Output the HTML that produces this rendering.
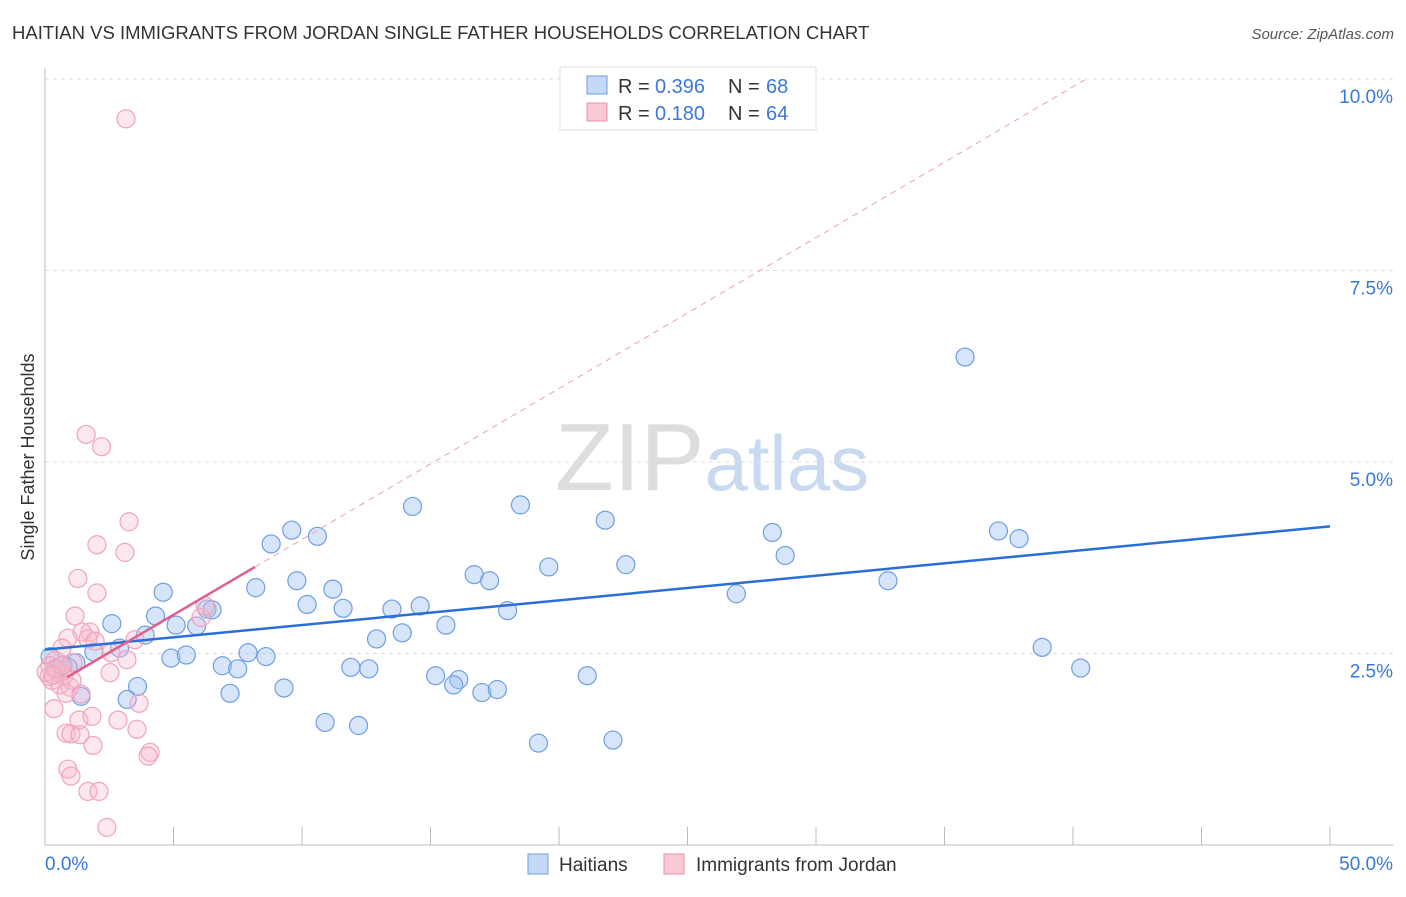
<!DOCTYPE html>
<html><head><meta charset="utf-8">
<style>
body{margin:0;background:#fff;font-family:"Liberation Sans",sans-serif;}
svg text{font-family:"Liberation Sans",sans-serif;}
</style></head>
<body>
<svg id="chart" width="1406" height="892" xmlns="http://www.w3.org/2000/svg">
<text x="12" y="39" font-size="18.5" fill="#333">HAITIAN VS IMMIGRANTS FROM JORDAN SINGLE FATHER HOUSEHOLDS CORRELATION CHART</text>
<text x="1394" y="39" font-size="15" fill="#555" text-anchor="end" font-style="italic">Source: ZipAtlas.com</text>
<text x="555" y="490" font-size="96" fill="#ddd" font-family="Liberation Serif">ZIP<tspan fill="#c9d9ef" font-family="Liberation Sans" font-size="78">atlas</tspan></text>
<g id="grid"></g>
<g id="axes"></g>
<g id="points"></g>
<g id="trends"></g>
<text transform="translate(34,457) rotate(-90)" font-size="18" fill="#333" text-anchor="middle">Single Father Households</text>
<g>
<rect x="560" y="67" width="256" height="63" fill="#fff" stroke="#ddd"/>
<rect x="587" y="76" width="20" height="18" fill="#c5d9f7" stroke="#6a9be0"/>
<rect x="587" y="103" width="20" height="18" fill="#f9c9d6" stroke="#ec8fab"/>
<text x="618" y="93" font-size="20" fill="#333">R =</text><text x="655" y="93" font-size="20" fill="#3a78d8">0.396</text>
<text x="728" y="93" font-size="20" fill="#333">N =</text><text x="766" y="93" font-size="20" fill="#3a78d8">68</text>
<text x="618" y="120" font-size="20" fill="#333">R =</text><text x="655" y="120" font-size="20" fill="#3a78d8">0.180</text>
<text x="728" y="120" font-size="20" fill="#333">N =</text><text x="766" y="120" font-size="20" fill="#3a78d8">64</text>
</g>
<g>
<rect x="528" y="854" width="20" height="20" fill="#c5d9f7" stroke="#6a9be0"/>
<text x="559" y="871" font-size="19" fill="#333">Haitians</text>
<rect x="664" y="854" width="20" height="20" fill="#f9c9d6" stroke="#ec8fab"/>
<text x="696" y="871" font-size="19" fill="#333">Immigrants from Jordan</text>
</g>
</svg>
<script>
const yTicks=[2.5,5.0,7.5,10.0];
const yTickLabels=["2.5%","5.0%","7.5%","10.0%"];
const xTickLabels=["0.0%","50.0%"];
const haitiansX=[9.6,8.8,10.6,14.3,18.5,21.8,28.3,28.8,35.8,37.1,37.9,4.6,8.2,9.8,11.2,16.7,17.3,19.6,22.6,32.8,26.9,4.3,6.3,6.5,10.2,11.6,13.5,14.6,18.0,2.6,5.1,5.9,3.9,12.9,13.9,15.6,2.9,1.9,4.9,5.5,7.9,8.6,6.9,7.5,11.9,12.6,15.2,16.1,15.9,21.1,38.8,40.3,3.6,1.4,3.2,7.2,9.3,17.0,17.6,10.9,12.2,19.2,22.1,0.2,0.7,1.2,0.4,0.9];
const haitiansY=[4.11,3.93,4.03,4.42,4.44,4.24,4.08,3.78,6.37,4.10,4.00,3.30,3.36,3.45,3.34,3.53,3.45,3.63,3.66,3.45,3.28,2.99,3.08,3.07,3.14,3.09,3.08,3.12,3.06,2.89,2.87,2.86,2.74,2.69,2.77,2.87,2.57,2.52,2.44,2.48,2.51,2.46,2.34,2.30,2.32,2.30,2.21,2.16,2.09,2.21,2.58,2.31,2.07,1.94,1.90,1.98,2.05,1.99,2.03,1.60,1.56,1.33,1.37,2.46,2.35,2.38,2.29,2.32];
const jordanX=[3.15,1.6,2.2,3.27,2.02,3.11,1.28,2.02,1.17,6.07,6.23,3.5,1.75,1.44,1.67,0.89,1.95,0.66,1.09,0.39,0.19,0.5,0.74,0.27,0.58,0.97,1.05,0.82,0.35,1.4,2.53,3.19,2.57,1.32,1.83,2.84,3.66,0.82,1.01,1.36,1.87,3.58,4.09,4.01,0.89,1.01,1.67,2.1,2.41,0.16,0.43,0.66,0.04,0.31];
const jordanY=[9.48,5.36,5.20,4.22,3.92,3.82,3.48,3.29,2.99,2.97,3.12,2.68,2.78,2.78,2.69,2.70,2.66,2.57,2.38,2.41,2.34,2.25,2.21,2.15,2.09,2.06,2.15,1.98,1.78,1.97,2.25,2.42,2.51,1.63,1.68,1.63,1.85,1.46,1.45,1.44,1.30,1.51,1.21,1.16,0.99,0.90,0.70,0.70,0.23,2.20,2.31,2.34,2.26,2.22];
const blueTrend=[0,2.55,50,4.16];
const pinkTrend=[0.86,2.19,8.17,3.63,40.46,9.99];
const X0=45,X1=1330,Y0=845,YS=76.6;
const sx=v=>X0+(X1-X0)*v/50, sy=v=>Y0-v*YS;
const NS="http://www.w3.org/2000/svg";
function mk(t,a,p){const e=document.createElementNS(NS,t);for(const k in a)e.setAttribute(k,a[k]);p.appendChild(e);return e;}
const grid=document.getElementById('grid'),axes=document.getElementById('axes');
yTicks.forEach((t,i)=>{
 const l=mk('line',{x1:X0,x2:1393,y1:sy(t),y2:sy(t),stroke:'#ddd','stroke-dasharray':'4,4'},grid);
 
 
 const tx=mk('text',{x:1393,y:sy(t)+24,'font-size':19,fill:'#3a78d8','text-anchor':'end'},axes);
 tx.textContent=yTickLabels[i];
 
 
});
const ax=mk('line',{x1:X0,x2:X0,y1:68,y2:Y0,stroke:'#bbb'},axes);


const bx=mk('line',{x1:X0,x2:1393,y1:Y0,y2:Y0,stroke:'#bbb'},axes);


for(let i=1;i<=10;i++){const t=mk('line',{x1:sx(i*5),x2:sx(i*5),y1:Y0-18,y2:Y0,stroke:'#bbb'},axes);
 
 }
[[0,'start',X0],[1,'end',1393]].forEach(([i,a,x])=>{const t=mk('text',{x:x,y:870,'font-size':19,fill:'#3a78d8','text-anchor':a},axes);t.textContent=xTickLabels[i];
 
 });
const pts=document.getElementById('points');
haitiansX.forEach((v,i)=>{const c=mk('circle',{cx:sx(v),cy:sy(haitiansY[i]),r:9,fill:'rgba(165,197,242,0.45)',stroke:'#6f9ee3','stroke-width':1.2},pts);
 
 });
jordanX.forEach((v,i)=>{const c=mk('circle',{cx:sx(v),cy:sy(jordanY[i]),r:9,fill:'rgba(246,185,205,0.35)',stroke:'#efa3bb','stroke-width':1.2},pts);
 
 });
const tr=document.getElementById('trends');
const b=mk('line',{x1:sx(blueTrend[0]),y1:sy(blueTrend[1]),x2:sx(blueTrend[2]),y2:sy(blueTrend[3]),stroke:'#2a6fd6','stroke-width':2.5},tr);


const p=mk('line',{x1:sx(pinkTrend[0]),y1:sy(pinkTrend[1]),x2:sx(pinkTrend[2]),y2:sy(pinkTrend[3]),stroke:'#e0608a','stroke-width':2.5},tr);


const pd=mk('line',{x1:sx(pinkTrend[2]),y1:sy(pinkTrend[3]),x2:sx(pinkTrend[4]),y2:sy(pinkTrend[5]),stroke:'#eaa0b8','stroke-width':1,'stroke-dasharray':'6,5'},tr);


</script>
</body></html>
